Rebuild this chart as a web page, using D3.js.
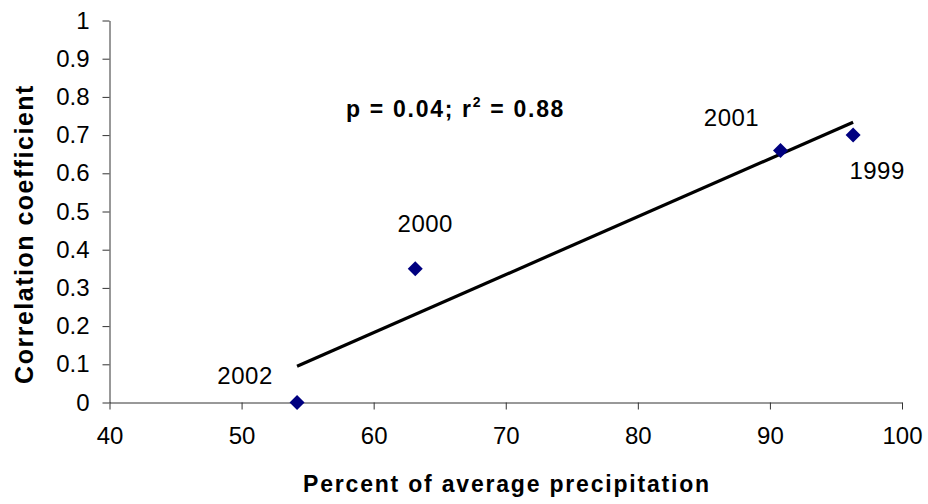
<!DOCTYPE html>
<html><head><meta charset="utf-8">
<script src="https://cdn.jsdelivr.net/npm/d3@7"></script>
<style>
html,body{margin:0;padding:0;background:#fff;}
svg{display:block;font-family:"Liberation Sans",Arial,Helvetica,sans-serif;}
</style></head>
<body>
<svg id="chart" width="928" height="504"></svg>
<script>
const years = ["1999", "2000", "2001", "2002"];
const precip = [96.3, 63.15, 90.8, 54.2];
const corr = [0.70, 0.35, 0.66, 0.0];
const xTicks = [40, 50, 60, 70, 80, 90, 100];
const yTicks = [0, 0.1, 0.2, 0.3, 0.4, 0.5, 0.6, 0.7, 0.8, 0.9, 1];
const annotation = {p: "0.04", r2: "0.88"};

const svg = d3.select("#chart");
const x = d3.scaleLinear().domain([40, 100]).range([109.5, 902]);
const y = d3.scaleLinear().domain([0, 1]).range([402.5, 20.5]);

const axisColor = "#333";
// x axis
const gx = svg.append("g").attr("transform", `translate(0,${y(0)})`)
  .call(d3.axisBottom(x).tickValues(xTicks).tickSize(7).tickSizeOuter(0).tickPadding(17).tickFormat(d3.format("d")));
// y axis
const gy = svg.append("g").attr("transform", `translate(${x(40)},0)`)
  .call(d3.axisLeft(y).tickValues(yTicks).tickSize(7).tickSizeOuter(0).tickPadding(13).tickFormat(d => d === 0 ? "0" : d === 1 ? "1" : d3.format(".1f")(d)));
[gx, gy].forEach(g => {
  g.select(".domain").attr("stroke", axisColor).attr("stroke-width", 1);
  g.selectAll(".tick line").attr("stroke", axisColor);
  g.selectAll(".tick text").attr("fill", "#000").attr("font-size", 24).attr("font-family", '"Liberation Sans",Arial,sans-serif');
});
gx.selectAll(".tick text").attr("dy", "0.71em");

const pts = years.map((yr, i) => ({year: yr, px: precip[i], c: corr[i]}));

// linear regression
const mx = d3.mean(pts, d => d.px), my = d3.mean(pts, d => d.c);
const slope = d3.sum(pts, d => (d.px - mx) * (d.c - my)) / d3.sum(pts, d => (d.px - mx) ** 2);
const icpt = my - slope * mx;
const [xmin, xmax] = d3.extent(pts, d => d.px);
const line = d3.line().x(d => x(d[0])).y(d => y(d[1]));
svg.append("path")
  .attr("d", line([[xmin, icpt + slope * xmin], [xmax, icpt + slope * xmax]]))
  .attr("stroke", "#000").attr("stroke-width", 3.2).attr("fill", "none");

// markers
svg.selectAll(".pt").data(pts).join("path")
  .attr("class", "pt")
  .attr("transform", d => `translate(${x(d.px)},${y(d.c)})`)
  .attr("d", "M0,-7.5L7.5,0L0,7.5L-7.5,0Z")
  .attr("fill", "#000080");

// labels
const labelOffset = {"1999": [24, 44], "2000": [10, -37], "2001": [-49, -24], "2002": [-52, -19]};
svg.selectAll(".lbl").data(pts).join("text")
  .attr("class", "lbl")
  .attr("x", d => x(d.px) + labelOffset[d.year][0])
  .attr("y", d => y(d.c) + labelOffset[d.year][1])
  .attr("text-anchor", "middle")
  .attr("font-size", 24)
  .attr("letter-spacing", 0.5)
  .attr("fill", "#000")
  .text(d => d.year);

// annotation
const ann = svg.append("text").attr("x", 346).attr("y", 117)
  .attr("font-size", 23).attr("font-weight", "bold").attr("letter-spacing", 1.7).attr("fill", "#000");
ann.append("tspan").text(`p = ${annotation.p}; r`);
ann.append("tspan").attr("font-size", 14).attr("dy", -10).text("2");
ann.append("tspan").attr("dy", 10).text(` = ${annotation.r2}`);

// axis titles
svg.append("text").attr("x", 507).attr("y", 492).attr("text-anchor", "middle")
  .attr("font-size", 23).attr("font-weight", "bold").attr("letter-spacing", 1.8).text("Percent of average precipitation");
svg.append("text").attr("transform", "translate(33,234) rotate(-90)").attr("text-anchor", "middle")
  .attr("font-size", 25).attr("font-weight", "bold").attr("letter-spacing", 1.5).text("Correlation coefficient");
</script>
</body></html>
